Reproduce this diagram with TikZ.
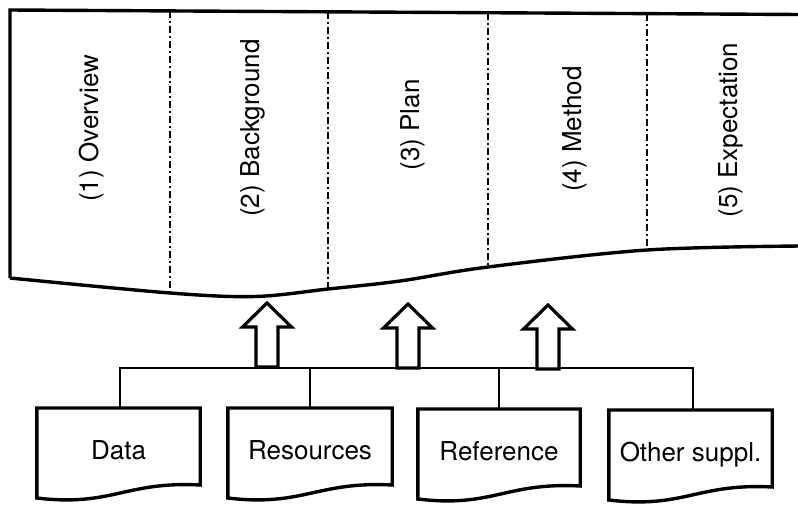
\documentclass[tikz,border=0pt]{standalone}
\usepackage{fontspec}
\setmainfont{TeX Gyre Heros}
\usetikzlibrary{calc}
\begin{document}
\begin{tikzpicture}[x=1pt,y=-1pt,
  outline/.style={line width=3.4pt, line join=miter},
  divider/.style={line width=1.9pt, dash pattern=on 7pt off 3pt on 2pt off 3pt},
  busline/.style={line width=2.8pt},
  blockarr/.style={line width=3.2pt, fill=white, line join=miter},
  labelfont/.style={font=\fontsize{26}{30}\selectfont},
  colhead/.style={rotate=90, labelfont, inner sep=0pt},
  docbox/.style={minimum width=#1, minimum height=78pt, inner sep=0pt, anchor=north},
]
\useasboundingbox (0,0) rectangle (798,504);

% main sheet: top edge, left edge and curved lower edge
\draw[outline] (800,14.5) -- (10,10) -- (10,278)
  plot[smooth, tension=0.55] coordinates {(10,278) (170,293) (255,296.5) (328,289) (400,281) (488,267) (647,250) (800,246)};

% section dividers
\draw[divider] (170,11) -- (170,293);
\draw[divider] (328,12) -- (328,289);
\draw[divider] (488,13) -- (488,267);
\draw[divider] (647,14) -- (647,250);

% section headings
\node[colhead] (s1) at (92,128) {(1) Overview};
\node[colhead] (s2) at (253,128) {(2) Background};
\node[colhead] (s3) at (413,125) {(3) Plan};
\node[colhead] (s4) at (575,129) {(4) Method};
\node[colhead] (s5) at (731,130) {(5) Expectation};

% source documents
\node[docbox=163pt] (data) at (118.5,408) {};
\node[docbox=164pt] (res)  at (310,408) {};
\node[docbox=162pt] (ref)  at (499,409) {};
\node[docbox=163pt] (oth)  at (690.5,410) {};

\foreach \d/\t in {data/Data, res/Resources, ref/Reference, oth/Other suppl.}{
  \draw[outline]
    (\d.north west) -- (\d.north east) -- ($(\d.north east)+(0,77)$)
    .. controls ($(\d.north east)+(-75,73)$) and ($(\d.north west)+(75,99)$)
    .. ($(\d.north west)+(0,90)$) -- cycle;
  \node[labelfont, inner sep=0pt, anchor=base]
    (\d-label) at ($(\d.north)+(0,51)$) {\t};
}

% collecting bus
\coordinate (b1) at (120,368);
\coordinate (b4) at (693,368);
\draw[busline] (data.north -| b1) -- (b1) -- (b4) -- (oth.north -| b4);
\draw[busline] (res.north |- b1) -- (res.north);
\draw[busline] (ref.north |- b1) -- (ref.north);

% block arrows feeding the sheet
\coordinate (a1) at (267,303);
\coordinate (a2) at (408,304);
\coordinate (a3) at (548,305);
\foreach \a in {a1,a2,a3}{
  \draw[blockarr, shift={(\a)}]
    (0,0) -- (24.5,24) -- (11,24) -- (11,64) -- (-11,64) -- (-11,24) -- (-24.5,24) -- cycle;
}
\end{tikzpicture}
\end{document}
